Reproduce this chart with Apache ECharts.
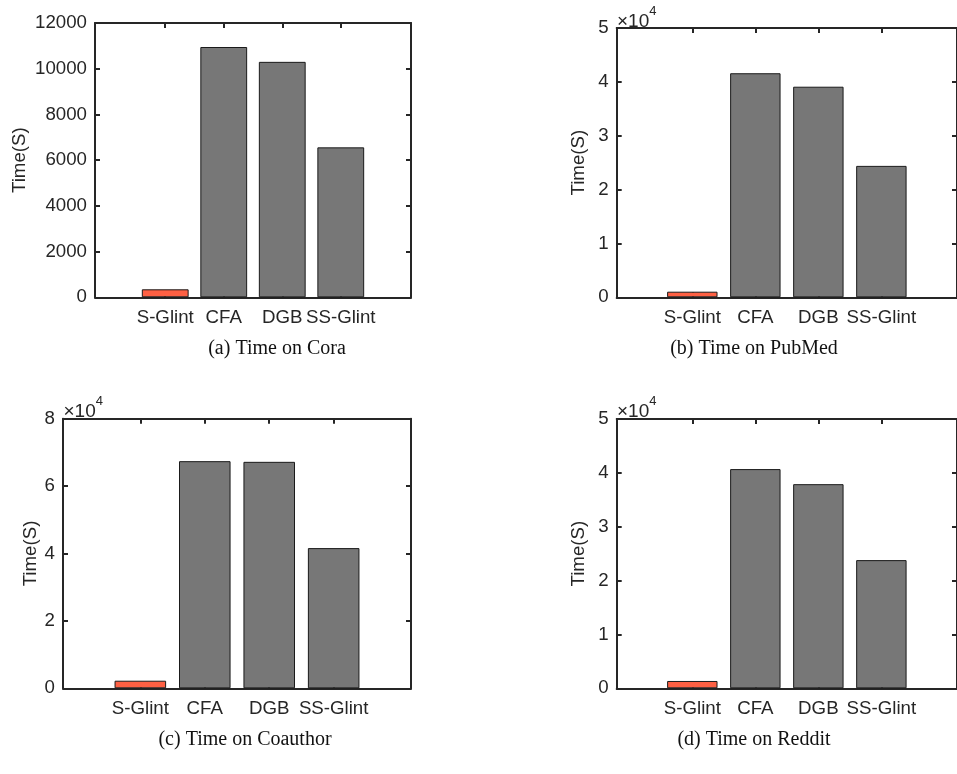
<!DOCTYPE html>
<html>
<head>
<meta charset="utf-8">
<script src="https://cdn.jsdelivr.net/npm/echarts@6/dist/echarts.min.js"></script>
<style>
  html, body { margin: 0; padding: 0; background: #ffffff; }
  #chart { width: 957px; height: 774px; }
</style>
</head>
<body>
<div id="chart"></div>
<script>
// Running time (seconds) of each method on four datasets
const methods = ['S-Glint', 'CFA', 'DGB', 'SS-Glint'];
const coraTime = [350, 10950, 10300, 6560];
const pubmedTime = [1040, 41600, 39100, 24400];
const coauthorTime = [2250, 67400, 67200, 41600];
const redditTime = [1360, 40700, 37900, 23800];

// Y tick labels (the last three panels are shown in units of 10^4)
const coraTicks = [0, 2000, 4000, 6000, 8000, 10000, 12000];
const pubmedTicks = [0, 1, 2, 3, 4, 5];
const coauthorTicks = [0, 2, 4, 6, 8];
const redditTicks = [0, 1, 2, 3, 4, 5];

const captions = ['(a) Time on Cora', '(b) Time on PubMed', '(c) Time on Coauthor', '(d) Time on Reddit'];
const yTitle = 'Time(S)';

const INK = '#262626';
const HIGHLIGHT = '#fe6043';
const BAR_GRAY = '#777777';
const SANS = '"Liberation Sans", Arial, Helvetica, sans-serif';
const SERIF = '"Liberation Serif", "Times New Roman", serif';
const LABEL_SIZE = 18.7;

const panels = [
  { times: coraTime, ticks: coraTicks, unit: 1, caption: captions[0],
    grid: { left: 95, top: 23, width: 316, height: 274.3 }, nameGap: 66,
    captionPos: [277, 349] },
  { times: pubmedTime, ticks: pubmedTicks, unit: 10000, caption: captions[1],
    grid: { left: 616.7, top: 28, width: 347, height: 269.3 }, nameGap: 28,
    captionPos: [754, 349], expPos: [617, 18] },
  { times: coauthorTime, ticks: coauthorTicks, unit: 10000, caption: captions[2],
    grid: { left: 63, top: 418.7, width: 348, height: 269.6 }, nameGap: 21,
    captionPos: [245, 740], expPos: [63.5, 408.3] },
  { times: redditTime, ticks: redditTicks, unit: 10000, caption: captions[3],
    grid: { left: 616.7, top: 419, width: 347, height: 269.3 }, nameGap: 28,
    captionPos: [754, 740], expPos: [617, 408] }
];

const XMIN = -0.2, XMAX = 5.2;
const catPositions = methods.map((m, i) => i + 1);

const grids = [], xAxes = [], yAxes = [], series = [], graphics = [];

panels.forEach((p, gi) => {
  grids.push(Object.assign({ containLabel: false }, p.grid));

  const yMax = p.ticks[p.ticks.length - 1] * p.unit;
  const yStep = (p.ticks[1] - p.ticks[0]) * p.unit;
  const lineStyle = { color: INK, width: 2 };

  // bottom axis with method names
  xAxes.push({
    type: 'value', gridIndex: gi, position: 'bottom', min: XMIN, max: XMAX,
    axisLine: { show: true, onZero: false, lineStyle },
    axisTick: { show: true, inside: true, length: 5, customValues: catPositions, lineStyle },
    axisLabel: { show: true, customValues: catPositions, margin: 11, color: INK,
      fontFamily: SANS, fontSize: LABEL_SIZE, formatter: v => methods[Math.round(v) - 1] },
    splitLine: { show: false }
  });
  // top frame edge
  xAxes.push({
    type: 'value', gridIndex: gi, position: 'top', min: XMIN, max: XMAX,
    axisLine: { show: true, onZero: false, lineStyle },
    axisTick: { show: true, inside: true, length: 5, customValues: catPositions, lineStyle },
    axisLabel: { show: false },
    splitLine: { show: false }
  });
  // left value axis
  yAxes.push({
    type: 'value', gridIndex: gi, position: 'left', min: 0, max: yMax, interval: yStep,
    name: yTitle, nameLocation: 'middle', nameGap: p.nameGap, nameRotate: 90,
    nameTextStyle: { color: INK, fontFamily: SANS, fontSize: LABEL_SIZE },
    axisLine: { show: true, onZero: false, lineStyle },
    axisTick: { show: true, inside: true, length: 5, lineStyle },
    axisLabel: { show: true, margin: 8, color: INK, fontFamily: SANS, fontSize: LABEL_SIZE,
      formatter: v => String(Math.round(v / p.unit)) },
    splitLine: { show: false }
  });
  // right frame edge
  yAxes.push({
    type: 'value', gridIndex: gi, position: 'right', min: 0, max: yMax, interval: yStep,
    axisLine: { show: true, onZero: false, lineStyle },
    axisTick: { show: true, inside: true, length: 5, lineStyle },
    axisLabel: { show: false },
    splitLine: { show: false }
  });

  series.push({
    type: 'bar', xAxisIndex: gi * 2, yAxisIndex: gi * 2, barWidth: '80%',
    data: p.times.map((t, i) => ({
      value: [catPositions[i], t],
      itemStyle: { color: i === 0 ? HIGHLIGHT : BAR_GRAY }
    })),
    itemStyle: { borderColor: '#1a1a1a', borderWidth: 1 },
    emphasis: { disabled: true },
    silent: true, z: 1
  });

  graphics.push({
    type: 'text', x: p.captionPos[0], y: p.captionPos[1],
    style: { text: p.caption, fill: '#111111', font: '20px ' + SERIF,
      textAlign: 'center', textVerticalAlign: 'middle' }
  });

  if (p.expPos) {
    // axis multiplier ×10^4
    graphics.push({
      type: 'text', x: p.expPos[0], y: p.expPos[1],
      style: {
        text: '{b|\u00d710}{s|4}', fill: INK,
        textAlign: 'left', textVerticalAlign: 'middle',
        rich: {
          b: { fontFamily: SANS, fontSize: 19, lineHeight: 26, verticalAlign: 'bottom', fill: INK },
          s: { fontFamily: SANS, fontSize: 13, lineHeight: 14, verticalAlign: 'top', fill: INK }
        }
      }
    });
  }
});

const chart = echarts.init(document.getElementById('chart'), null, { renderer: 'canvas' });
chart.setOption({
  animation: false,
  backgroundColor: '#ffffff',
  grid: grids,
  xAxis: xAxes,
  yAxis: yAxes,
  series: series,
  graphic: graphics
});
</script>
</body>
</html>
